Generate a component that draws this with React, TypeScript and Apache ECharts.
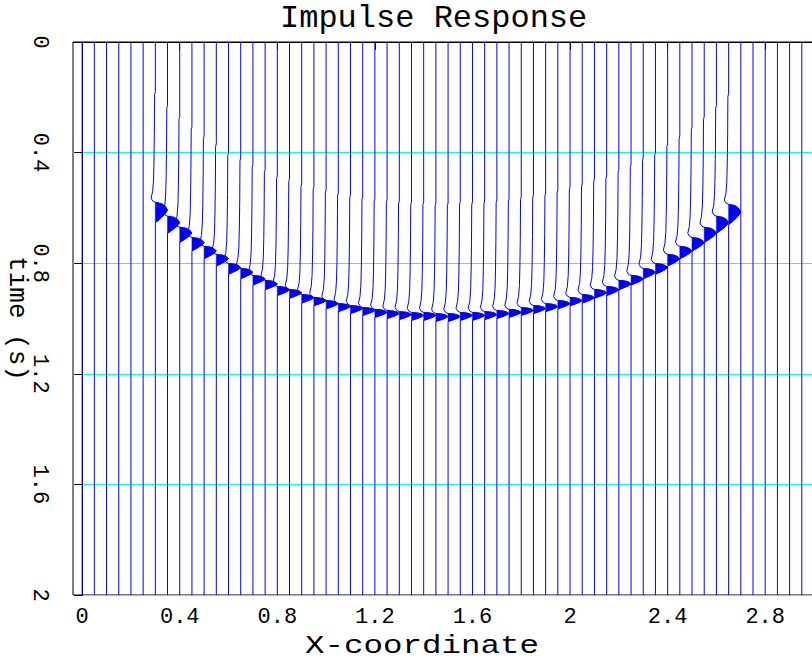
import React, { useEffect, useRef } from "react";
import * as echarts from "echarts";

// Trace positions (X-coordinate)
const TRACE_X = [
  0, 0.05, 0.1, 0.15, 0.2, 0.25, 0.3, 0.35, 0.4, 0.45,
  0.5, 0.55, 0.6, 0.65, 0.7, 0.75, 0.8, 0.85, 0.9, 0.95,
  1.0, 1.05, 1.1, 1.15, 1.2, 1.25, 1.3, 1.35, 1.4, 1.45,
  1.5, 1.55, 1.6, 1.65, 1.7, 1.75, 1.8, 1.85, 1.9, 1.95,
  2.0, 2.05, 2.1, 2.15, 2.2, 2.25, 2.3, 2.35, 2.4, 2.45,
  2.5, 2.55, 2.6, 2.65, 2.7, 2.75, 2.8, 2.85, 2.9, 2.95,
];

// Onset time (s) of the event on each trace (null = no event)
const EVENT_T: (number | null)[] = [
  null, null, null, null, null, null, 0.580, 0.630, 0.670, 0.707,
  0.739, 0.768, 0.801, 0.819, 0.844, 0.862, 0.884, 0.895, 0.913, 0.924,
  0.935, 0.946, 0.953, 0.960, 0.967, 0.971, 0.975, 0.978, 0.978, 0.982,
  0.982, 0.978, 0.978, 0.975, 0.971, 0.967, 0.960, 0.953, 0.946, 0.935,
  0.924, 0.913, 0.895, 0.884, 0.862, 0.844, 0.819, 0.801, 0.768, 0.739,
  0.707, 0.670, 0.630, 0.587, null, null, null, null, null, null,
];

// Duration (s) of the positive lobe on each trace
const LOBE_LEN: (number | null)[] = [
  null, null, null, null, null, null, 0.074, 0.062, 0.055, 0.049,
  0.045, 0.042, 0.039, 0.037, 0.035, 0.034, 0.033, 0.032, 0.031, 0.030,
  0.030, 0.029, 0.029, 0.029, 0.029, 0.029, 0.029, 0.029, 0.029, 0.029,
  0.029, 0.029, 0.029, 0.029, 0.029, 0.029, 0.029, 0.029, 0.029, 0.030,
  0.030, 0.031, 0.032, 0.033, 0.034, 0.035, 0.037, 0.039, 0.042, 0.045,
  0.049, 0.055, 0.062, 0.074, null, null, null, null, null, null,
];

// Precursor (negative tail) before the lobe: time offset (s), amplitude (trace spacings)
const PRE_DT = [-0.4, -0.39, -0.25, -0.15, -0.08, -0.04, -0.015, -0.004];
const PRE_A = [0, -0.06, -0.08, -0.11, -0.15, -0.22, -0.35, -0.2];

// Positive lobe: fraction of lobe length, amplitude (trace spacings)
const LOBE_U = [0, 0.06, 0.18, 0.38, 0.58, 0.8, 1];
const LOBE_A = [0, 0.5, 0.8, 1.0, 0.78, 0.4, 0];

const X_TICKS = [0, 0.4, 0.8, 1.2, 1.6, 2, 2.4, 2.8];
const TRACE_SPACING = 0.05;

const BLUE = "#0000ff";
const FONT = "Liberation Mono";

export default function App() {
  const ref = useRef<HTMLDivElement>(null);

  useEffect(() => {
    if (!ref.current) return;
    const chart = echarts.init(ref.current, null, { renderer: "svg" });

    const renderItem = (params: any, api: any) => {
      const k = api.value(2);
      const x0 = TRACE_X[k];
      const t0 = EVENT_T[k];
      const L = LOBE_LEN[k];
      const c = (a: number, t: number) => api.coord([x0 + a * TRACE_SPACING, t]);
      if (t0 == null || L == null) {
        return {
          type: "polyline",
          shape: { points: [c(0, 0), c(0, 2)] },
          style: { stroke: BLUE, lineWidth: 1, fill: null },
          silent: true,
        };
      }
      const line: number[][] = [c(0, 0)];
      for (let i = 0; i < PRE_DT.length; i++) line.push(c(PRE_A[i], t0 + PRE_DT[i]));
      const lobe: number[][] = [];
      for (let i = 0; i < LOBE_U.length; i++) lobe.push(c(LOBE_A[i], t0 + LOBE_U[i] * L));
      line.push(...lobe);
      line.push(c(0, 2));
      return {
        type: "group",
        children: [
          {
            type: "polygon",
            shape: { points: lobe },
            style: { fill: BLUE, stroke: BLUE, lineWidth: 0.5 },
            silent: true,
          },
          {
            type: "polyline",
            shape: { points: line },
            style: { stroke: BLUE, lineWidth: 1, fill: null },
            silent: true,
          },
        ],
      };
    };

    chart.setOption({
      animation: false,
      backgroundColor: "#ffffff",
      title: {
        text: "Impulse Response",
        left: 280,
        top: 0,
        padding: 0,
        textStyle: {
          fontFamily: FONT,
          fontSize: 32,
          lineHeight: 37,
          fontWeight: "normal",
          color: "#000",
        },
      },
      graphic: [
        {
          type: "text",
          x: 422,
          y: 646.3,
          scaleX: 1.25,
          silent: true,
          style: {
            text: "X-coordinate",
            fontFamily: FONT,
            fontSize: 26,
            fill: "#000",
            textAlign: "center",
            textVerticalAlign: "middle",
          },
        },
      ],
      grid: {
        left: 73,
        top: 42,
        width: 741,
        height: 553,
        containLabel: false,
        outerBoundsMode: "none",
        show: true,
        borderColor: "#000",
        borderWidth: 1,
        backgroundColor: "transparent",
      },
      xAxis: {
        type: "value",
        min: -0.0375,
        max: 3.0,
        axisLine: { show: true, lineStyle: { color: "#000", width: 1 } },
        axisTick: { show: true, length: 8, lineStyle: { color: "#000" }, customValues: X_TICKS },
        axisLabel: {
          fontFamily: FONT,
          fontSize: 22,
          color: "#000",
          margin: 11.5,
          customValues: X_TICKS,
          formatter: (v: number) => String(Math.round(v * 10) / 10),
        },
        splitLine: { show: false },
      },
      yAxis: {
        type: "value",
        inverse: true,
        min: 0,
        max: 2,
        interval: 0.4,
        name: "time (s)",
        nameLocation: "middle",
        nameRotate: -90,
        nameGap: 43,
        nameMoveOverlap: false,
        nameTextStyle: { fontFamily: FONT, fontSize: 26, color: "#000" },
        axisLine: { show: true, lineStyle: { color: "#000", width: 1 } },
        axisTick: { show: true, length: 8, lineStyle: { color: "#000" } },
        axisLabel: {
          fontFamily: FONT,
          fontSize: 22,
          color: "#000",
          rotate: -90,
          margin: 23,
          formatter: (v: number) => String(Math.round(v * 10) / 10),
        },
        splitLine: { show: true, lineStyle: { color: "#00ffff", width: 1 } },
      },
      series: [
        {
          type: "custom",
          renderItem,
          clip: true,
          encode: { x: 0, y: 1 },
          data: TRACE_X.map((x, k) => [x, 1, k]),
        },
      ],
    });

    return () => chart.dispose();
  }, []);

  return (
    <div
      ref={ref}
      style={{ position: "fixed", left: 0, top: 0, width: 812, height: 661, background: "#fff" }}
    />
  );
}
